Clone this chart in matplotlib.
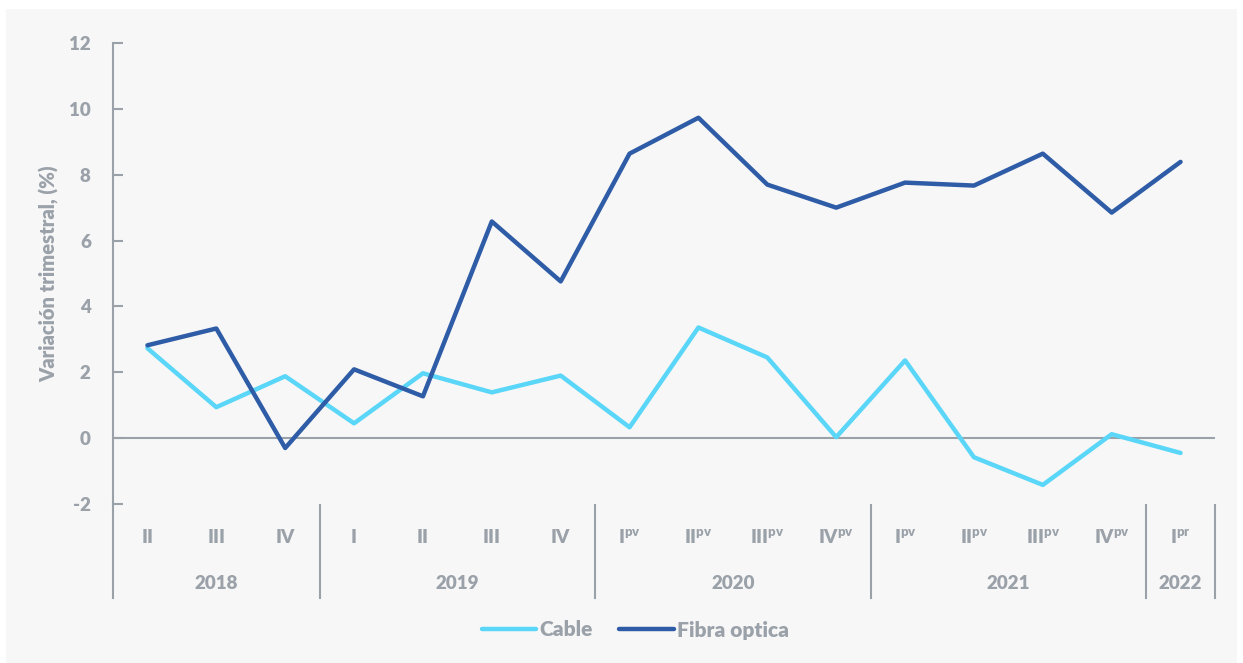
import numpy as np
import matplotlib.pyplot as plt
from matplotlib.patches import Rectangle

plt.rcParams['font.family'] = ['Lato', 'DejaVu Sans']
plt.rcParams['mathtext.default'] = 'regular'
plt.rcParams['axes.unicode_minus'] = False

# Datos
trimestres = ['II', 'III', 'IV',
              'I', 'II', 'III', 'IV',
              r'I$^{\mathregular{pv}}$', r'II$^{\mathregular{pv}}$', r'III$^{\mathregular{pv}}$', r'IV$^{\mathregular{pv}}$',
              r'I$^{\mathregular{pv}}$', r'II$^{\mathregular{pv}}$', r'III$^{\mathregular{pv}}$', r'IV$^{\mathregular{pv}}$',
              r'I$^{\mathregular{pr}}$']
anios = ['2018', '2019', '2020', '2021', '2022']
trimestres_por_anio = [3, 4, 4, 4, 1]

cable = [2.73, 0.94, 1.88, 0.45, 1.97, 1.39, 1.90, 0.33, 3.36, 2.45, 0.03, 2.36, -0.58, -1.42, 0.12, -0.45]
fibra = [2.82, 3.33, -0.30, 2.09, 1.27, 6.58, 4.76, 8.64, 9.73, 7.70, 7.00, 7.76, 7.67, 8.64, 6.85, 8.39]

gris = '#9aa1a9'
fondo = '#f7f7f7'
peso = 'heavy'
tam = 13.5

fig = plt.figure(figsize=(12.43, 6.63), dpi=100, facecolor='white')
fig.patches.append(Rectangle((6/1243, 0), 1237/1243 - 6/1243, 1 - 9/663,
                             transform=fig.transFigure, facecolor=fondo, edgecolor='none', zorder=-10))
ax = fig.add_axes([113/1243, 1 - 504/663, (1215 - 113)/1243, (504 - 43)/663])
ax.set_facecolor(fondo)

x = np.arange(len(cable))
ax.plot(x, cable, color='#5ad6f8', lw=3.2, label='Cable', solid_capstyle='round')
ax.plot(x, fibra, color='#2f5ca6', lw=3.2, label='Fibra optica', solid_capstyle='round')

ax.set_xlim(-0.5, len(cable) - 0.5)
ax.set_ylim(-2, 12)
ax.set_yticks(np.arange(-2, 13, 2))
ax.axhline(0, color=gris, lw=1.5, zorder=1)

for s in ['top', 'right', 'bottom']:
    ax.spines[s].set_visible(False)
ax.spines['left'].set_color(gris)
ax.spines['left'].set_linewidth(1.5)
ax.tick_params(axis='y', direction='in', length=7, width=1.5, color=gris,
               labelcolor=gris, labelsize=tam, pad=16)
for lab in ax.get_yticklabels():
    lab.set_fontweight(peso)
ax.set_xticks([])

ax.set_ylabel('Variación trimestral, (%)', color=gris, fontsize=14.5, fontweight=peso, labelpad=7)

# Eje de categorias en dos niveles
trans = ax.get_xaxis_transform()
ax.plot([-0.5, -0.5], [0, -0.204], transform=trans, color=gris, lw=1.5, clip_on=False)
for i, t in enumerate(trimestres):
    ax.text(i, -0.072, t, transform=trans, ha='center', va='center', color=gris,
            fontsize=tam, fontweight=peso)
inicio = -0.5
for anio, n in zip(anios, trimestres_por_anio):
    fin = inicio + n
    ax.plot([fin, fin], [-0.002, -0.204], transform=trans, color=gris, lw=1.5, clip_on=False)
    ax.text((inicio + fin) / 2, -0.172, anio, transform=trans, ha='center', va='center',
            color=gris, fontsize=tam, fontweight=peso)
    inicio = fin

leg = fig.legend(loc='center', bbox_to_anchor=(0.511, 1 - 630/663), ncol=2, frameon=False,
                 handlelength=2.6, handletextpad=0.15, columnspacing=1.3, fontsize=15)
for txt in leg.get_texts():
    txt.set_color(gris)
    txt.set_fontweight(peso)

fig.savefig('out.png', dpi=100, facecolor=fig.get_facecolor())
